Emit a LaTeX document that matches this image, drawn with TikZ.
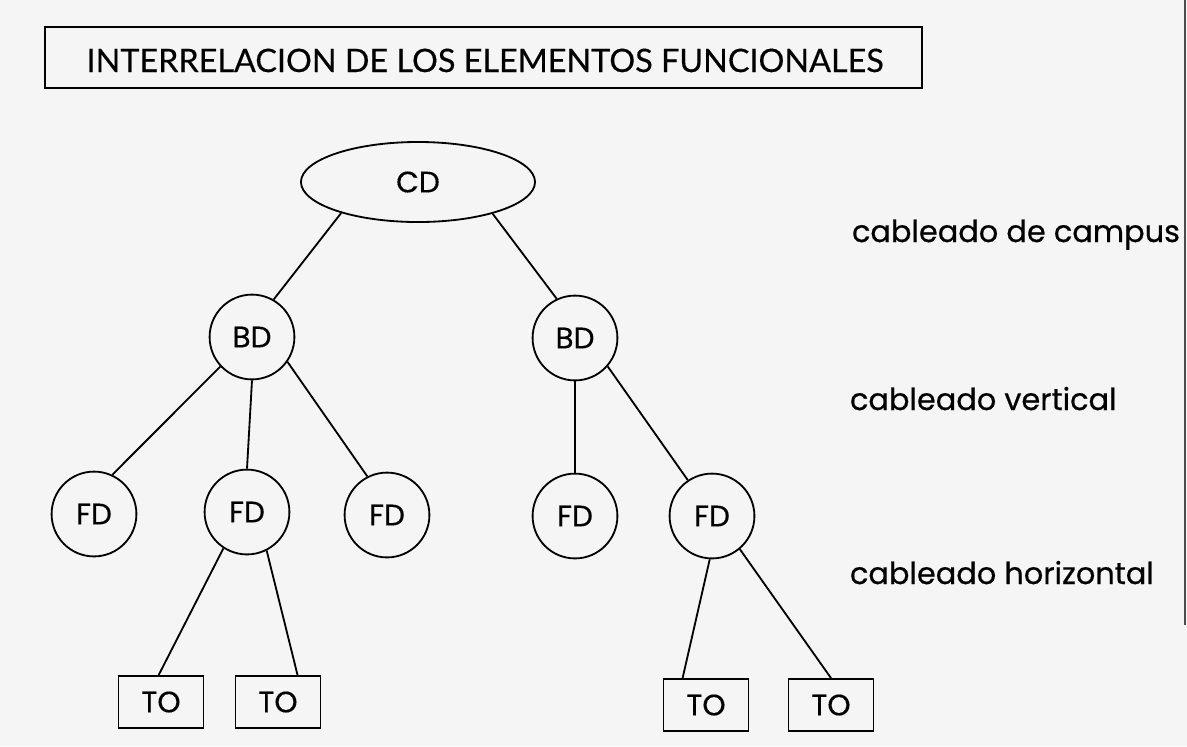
\documentclass[tikz,border=0pt]{standalone}
\usepackage{fontspec}
\setmainfont{Lato}[FakeBold=0.4]
\newfontfamily\levelfont{Poppins}[FakeBold=0.6]
\newfontfamily\unitfont{Poppins}[FakeBold=0.3]
\usetikzlibrary{shapes.geometric}
\begin{document}
\begin{tikzpicture}[x=0.025cm, y=-0.025cm,
    every node/.style={font=\unitfont\fontsize{21}{25}\selectfont},
    dist/.style={draw, line width=1.3pt, circle, minimum size=2.12cm, inner sep=0pt},
    campus/.style={draw, line width=1.3pt, ellipse, minimum width=5.85cm, minimum height=2cm, inner sep=0pt},
    outlet/.style={draw, line width=1.3pt, rectangle, minimum width=2.125cm, minimum height=1.3cm, inner sep=0pt},
    level/.style={anchor=base west, font=\levelfont\fontsize{21.6}{26}\selectfont},
    link/.style={line width=1.3pt}]
    \fill[black!4] (0,0) rectangle (1187,746);
    \useasboundingbox (0,0) rectangle (1187,746);

    \node[draw, line width=1.6pt, minimum width=21.925cm, minimum height=1.525cm, inner sep=0pt] (frame) at (483.5,57.5) {};
    \node[anchor=base, font=\rmfamily\fontsize{23}{28}\selectfont] (heading) at (485,72) {INTERRELACION DE LOS ELEMENTOS FUNCIONALES};

    \node[campus] (CD) at (418,182) {CD};
    \node[dist] (BDl) at (252,337) {BD};
    \node[dist] (BDr) at (575,338) {BD};
    \node[dist] (FDa) at (94,514) {FD};
    \node[dist] (FDb) at (247,512) {FD};
    \node[dist] (FDc) at (387,515) {FD};
    \node[dist] (FDd) at (575,516) {FD};
    \node[dist] (FDe) at (712,516) {FD};
    \node[outlet] (TOa) at (161,702) {TO};
    \node[outlet] (TOb) at (278,702) {TO};
    \node[outlet] (TOc) at (706,705) {TO};
    \node[outlet] (TOd) at (831,705) {TO};

    \draw[link] (CD.202) -- (BDl.60);
    \draw[link] (CD.337) -- (BDr.115);
    \draw[link] (BDl.223) -- (FDa.65);
    \draw[link] (BDl.south) -- (FDb.north);
    \draw[link] (BDl.325) -- (FDc.117);
    \draw[link] (BDr.south) -- (FDd.north);
    \draw[link] (BDr.319) -- (FDe.124);
    \draw[link] (FDb.237) -- (TOa.95);
    \draw[link] (FDb.297) -- (TOb.54);
    \draw[link] (FDe.267) -- (TOc.131);
    \draw[link] (FDe.310) -- (TOd.north);

    \node[level] (lcampus) at (847,242) {cableado de campus};
    \node[level] (lvertical) at (845,410) {cableado vertical};
    \node[level] (lhorizontal) at (845,584) {cableado horizontal};

    \draw[line width=1pt, black!70] (1185,0) -- (1185,625);
\end{tikzpicture}
\end{document}
